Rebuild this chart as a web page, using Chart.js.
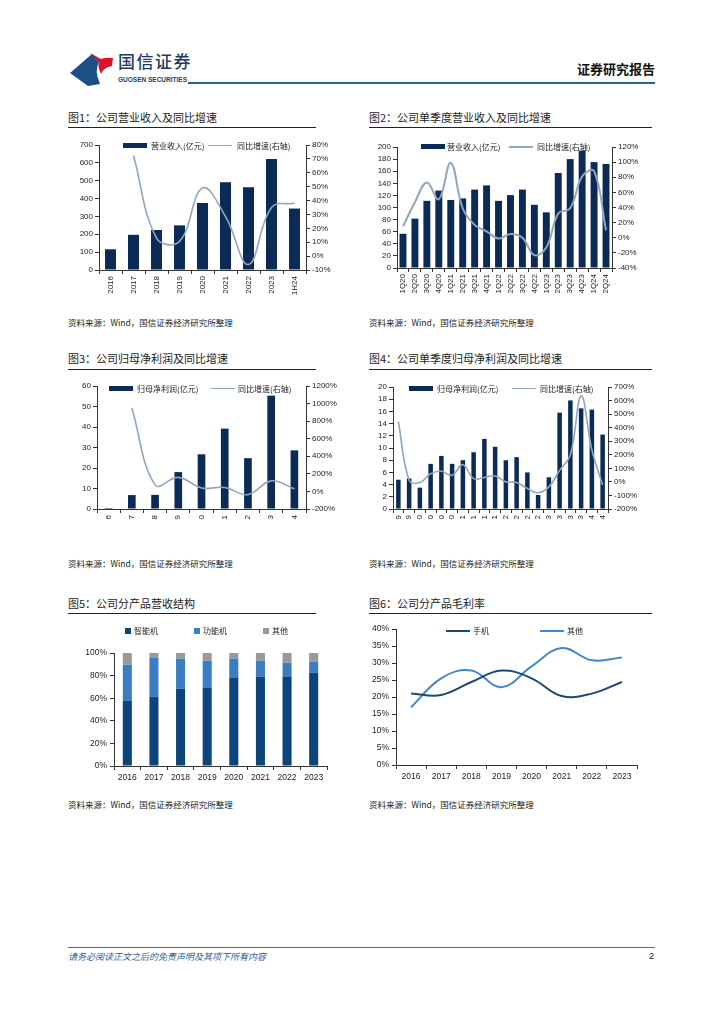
<!DOCTYPE html>
<html>
<head>
<meta charset="utf-8">
<script src="https://cdn.jsdelivr.net/npm/chart.js@4.4.1/dist/chart.umd.min.js"></script>
<style>
body { margin: 0; background: #fff; }
#page { position: relative; width: 724px; height: 1024px; overflow: hidden; font-family: "Noto Sans CJK SC", sans-serif; color: #222; }
.t { position: absolute; white-space: nowrap; }
.title { font-size: 11px; line-height: 13px; }
.rule { position: absolute; height: 1px; background: #222; }
.src { font-size: 8.5px; line-height: 10px; }
.box { position: absolute; overflow: hidden; }
.box > div { position: absolute; left: 0; top: 0; }
.lg { position: absolute; font-size: 8px; line-height: 10px; white-space: nowrap; color: #222; }
.sw { position: absolute; width: 24px; height: 5px; background: #0c2a56; }
.sq { position: absolute; width: 6px; height: 6px; }
.ln { position: absolute; width: 24px; height: 0; border-top: 1.6px solid #8ea7bf; }
</style>
</head>
<body>
<div id="page">
  <svg class="t" style="left:68px;top:50px" width="50" height="38" viewBox="0 0 50 38">
    <path d="M2 23 L24 4 L31 12 Q26 20 32 34 L20 36 Z" fill="#1d4f86"/>
    <path d="M22 3 L33 9 Q38 7 45 8 L44 16 Q36 17 33 24 Q29 16 31 12 Z" fill="#d7142a"/>
  </svg>
  <div class="t" style="left:118px;top:51px;font-size:17px;line-height:20px;color:#1f3a64;font-weight:500;letter-spacing:1.5px">国信证券</div>
  <div class="t" style="left:118px;top:76px;font-size:6.5px;line-height:8px;color:#1f3a64;font-family:'Liberation Sans';font-weight:bold">GUOSEN SECURITIES</div>
  <div class="t" style="right:69px;top:61px;font-size:13px;line-height:16px;font-weight:bold;color:#111">证券研究报告</div>
  <div class="rule" style="left:188px;top:82px;width:467px;height:2px;background:#2f5f8f"></div>

  <div class="t title" style="left:68px;top:111px">图1：公司营业收入及同比增速</div>
  <div class="rule" style="left:68px;top:127px;width:248px"></div>
  <div class="t title" style="left:369px;top:111px">图2：公司单季度营业收入及同比增速</div>
  <div class="rule" style="left:369px;top:127px;width:283px"></div>
  <div class="box" style="left:68px;top:138px;width:275px;height:162px"><div style="width:275px;height:162px"><canvas id="c1"></canvas></div></div>
  <div class="box" style="left:369px;top:140px;width:275px;height:160px"><div style="width:275px;height:160px"><canvas id="c2"></canvas></div></div>
  <div class="sw" style="left:123px;top:143px"></div>
  <div class="lg" style="left:151px;top:141px">营业收入(亿元)</div>
  <div class="ln" style="left:208px;top:145px"></div>
  <div class="lg" style="left:237px;top:141px">同比增速(右轴)</div>
  <div class="sw" style="left:421px;top:144px"></div>
  <div class="lg" style="left:447px;top:142px">营业收入(亿元)</div>
  <div class="ln" style="left:509px;top:146px;border-top-width:2px"></div>
  <div class="lg" style="left:537px;top:142px">同比增速(右轴)</div>
  <div class="t src" style="left:68px;top:317px">资料来源：Wind，国信证券经济研究所整理</div>
  <div class="t src" style="left:369px;top:317px">资料来源：Wind，国信证券经济研究所整理</div>

  <div class="t title" style="left:68px;top:352px">图3：公司归母净利润及同比增速</div>
  <div class="rule" style="left:68px;top:369px;width:248px"></div>
  <div class="t title" style="left:369px;top:352px">图4：公司单季度归母净利润及同比增速</div>
  <div class="rule" style="left:369px;top:369px;width:283px"></div>
  <div class="box" style="left:68px;top:378px;width:275px;height:142px"><div style="width:275px;height:175px"><canvas id="c3"></canvas></div></div>
  <div class="box" style="left:369px;top:378px;width:280px;height:142px"><div style="width:280px;height:175px"><canvas id="c4"></canvas></div></div>
  <div class="sw" style="left:109px;top:386px"></div>
  <div class="lg" style="left:137px;top:384px">归母净利润(亿元)</div>
  <div class="ln" style="left:211px;top:388px"></div>
  <div class="lg" style="left:238px;top:384px">同比增速(右轴)</div>
  <div class="sw" style="left:409px;top:386px"></div>
  <div class="lg" style="left:437px;top:384px">归母净利润(亿元)</div>
  <div class="ln" style="left:512px;top:388px"></div>
  <div class="lg" style="left:540px;top:384px">同比增速(右轴)</div>
  <div class="t src" style="left:68px;top:558px">资料来源：Wind，国信证券经济研究所整理</div>
  <div class="t src" style="left:369px;top:558px">资料来源：Wind，国信证券经济研究所整理</div>

  <div class="t title" style="left:68px;top:597px">图5：公司分产品营收结构</div>
  <div class="rule" style="left:68px;top:613px;width:248px"></div>
  <div class="t title" style="left:369px;top:597px">图6：公司分产品毛利率</div>
  <div class="rule" style="left:369px;top:613px;width:283px"></div>
  <div class="box" style="left:68px;top:609px;width:275px;height:177px"><div style="width:275px;height:177px"><canvas id="c5"></canvas></div></div>
  <div class="box" style="left:369px;top:620px;width:275px;height:166px"><div style="width:275px;height:166px"><canvas id="c6"></canvas></div></div>
  <div class="sq" style="left:125px;top:628px;background:#0d4479"></div>
  <div class="lg" style="left:134px;top:626px">智能机</div>
  <div class="sq" style="left:194px;top:628px;background:#3b7dc1"></div>
  <div class="lg" style="left:203px;top:626px">功能机</div>
  <div class="sq" style="left:263px;top:628px;background:#999999"></div>
  <div class="lg" style="left:272px;top:626px">其他</div>
  <div class="ln" style="left:446px;top:630px;border-top:2px solid #184a7c"></div>
  <div class="lg" style="left:473px;top:626px">手机</div>
  <div class="ln" style="left:540px;top:630px;border-top:2px solid #4388c8"></div>
  <div class="lg" style="left:567px;top:626px">其他</div>
  <div class="t src" style="left:68px;top:799px">资料来源：Wind，国信证券经济研究所整理</div>
  <div class="t src" style="left:369px;top:799px">资料来源：Wind，国信证券经济研究所整理</div>

  <div class="rule" style="left:68px;top:947px;width:587px;background:#3b6ea5"></div>
  <div class="t" style="left:68px;top:951px;font-size:9px;line-height:11px;font-style:italic;color:#2f5f9a">请务必阅读正文之后的免责声明及其项下所有内容</div>
  <div class="t" style="left:649px;top:951px;font-size:9px;line-height:11px;font-family:'Liberation Sans'">2</div>
</div>
<script>
// fig1 / fig3: annual
const years = ['2016', '2017', '2018', '2019', '2020', '2021', '2022', '2023', '1H24'];
const revenue = [116, 197, 224, 250, 375, 492, 464, 621, 344];
const revenueYoY = [null, 72.5, 13, 10.6, 49, 28.5, -6, 35, 38];
const netProfit = [0.5, 6.8, 6.9, 18, 26.7, 39.2, 24.8, 55.3, 28.6];
const netProfitYoY = [null, 950, 75, 160, 40, 44, -36, 120, 29];

// fig2: quarterly revenue
const quarters2 = ['1Q20', '2Q20', '3Q20', '4Q20', '1Q21', '2Q21', '3Q21', '4Q21', '1Q22', '2Q22', '3Q22', '4Q22', '1Q23', '2Q23', '3Q23', '4Q23', '1Q24', '2Q24'];
const qRevenue = [56.5, 81.6, 111, 128, 112.5, 115, 129.6, 136.5, 111, 120.5, 129.6, 104.5, 92, 157, 180, 194, 175, 172];
const qRevenueYoY = [15, 47, 73, 51, 99, 39, 17, 8.5, -1, 5, 0, -23, -13, 32, 39, 81, 88, 10];

// fig4: quarterly net profit
const quarters4 = ['3Q19', '4Q19', '1Q20', '2Q20', '3Q20', '4Q20', '1Q21', '2Q21', '3Q21', '4Q21', '1Q22', '2Q22', '3Q22', '4Q22', '1Q23', '2Q23', '3Q23', '4Q23', '1Q24', '2Q24'];
const qProfit = [4.8, 5.0, 3.5, 7.4, 8.7, 7.4, 8.0, 9.3, 11.5, 10.2, 8.0, 8.5, 6.0, 2.3, 5.2, 15.8, 17.8, 16.5, 16.3, 12.2];
const qProfitYoY = [444, 12, -5, 60, 78, 49, 127, 24, 32, 44, 0, -5, -49, -80, -37, 85, 200, 634, 237, -24];

// fig5 / fig6: by product
const years8 = ['2016', '2017', '2018', '2019', '2020', '2021', '2022', '2023'];
const smartShare = [57.7, 61.2, 68.3, 69.5, 78, 79, 78.7, 82.5];
const featureShare = [31.9, 34.4, 26.7, 23.7, 17, 14.2, 12.7, 9.8];
const otherShare = [10.4, 4.4, 5, 6.8, 5, 6.8, 8.6, 7.7];
const phoneMargin = [21.0, 20.6, 24.4, 27.8, 25.5, 20.3, 21.0, 24.4];
const otherMargin = [17.0, 25.5, 27.8, 22.9, 29.0, 34.4, 30.8, 31.6];

const NAVY = '#0c2a56';
const GREYLINE = '#8ea7bf';
const AXIS = '#333';
const NUMFONT = { family: 'Liberation Sans', size: 8 };

function fixW(w) { return s => { s.width = w; }; }
function fixH(h) { return s => { s.height = h; }; }
function pct(v) { return v + '%'; }

function combo(id, cats, barLabel, bars, lineLabel, line, o) {
  return new Chart(document.getElementById(id), {
    type: 'bar',
    data: {
      labels: cats,
      datasets: [
        { type: 'bar', label: barLabel, data: bars, backgroundColor: NAVY, yAxisID: 'y', order: 1,
          categoryPercentage: 1, barPercentage: o.barPct },
        { type: 'line', label: lineLabel, data: line, borderColor: GREYLINE, borderWidth: o.lw, yAxisID: 'y1',
          order: 0, pointRadius: 0, tension: 0.4, fill: false }
      ]
    },
    options: {
      responsive: true, maintainAspectRatio: false, animation: false,
      layout: { padding: { top: o.top, right: 0, left: 0, bottom: 0 } },
      plugins: { tooltip: { enabled: false }, legend: { display: false } },
      scales: {
        x: {
          afterFit: fixH(o.xh),
          grid: { offset: true, drawOnChartArea: false, tickLength: 4, color: AXIS },
          border: { color: AXIS },
          ticks: { autoSkip: false, minRotation: 90, maxRotation: 90, padding: 2, color: '#222', font: NUMFONT }
        },
        y: {
          position: 'left', min: o.yMin, max: o.yMax, afterFit: fixW(o.yw),
          grid: { drawOnChartArea: false, tickLength: 4, color: AXIS },
          border: { color: AXIS },
          ticks: { autoSkip: false, stepSize: o.yStep, padding: 2, color: '#222', font: NUMFONT }
        },
        y1: {
          position: 'right', min: o.rMin, max: o.rMax, afterFit: fixW(o.rw),
          grid: { drawOnChartArea: false, tickLength: 4, color: AXIS },
          border: { color: AXIS },
          ticks: { autoSkip: false, stepSize: o.rStep, padding: 2, color: '#222', font: NUMFONT, callback: pct }
        }
      }
    }
  });
}

combo('c1', years, '营业收入(亿元)', revenue, '同比增速(右轴)', revenueYoY,
  { barPct: 0.48, lw: 1.6, top: 7, xh: 30, yw: 31, rw: 37, yMin: 0, yMax: 700, yStep: 100, rMin: -10, rMax: 80, rStep: 10 });
combo('c2', quarters2, '营业收入(亿元)', qRevenue, '同比增速(右轴)', qRevenueYoY,
  { barPct: 0.58, lw: 2, top: 7, xh: 32, yw: 28, rw: 32, yMin: 0, yMax: 200, yStep: 20, rMin: -40, rMax: 120, rStep: 20 });
combo('c3', years, '归母净利润(亿元)', netProfit, '同比增速(右轴)', netProfitYoY,
  { barPct: 0.33, lw: 1.6, top: 8, xh: 44, yw: 29, rw: 37, yMin: 0, yMax: 60, yStep: 10, rMin: -200, rMax: 1200, rStep: 200 });
combo('c4', quarters4, '归母净利润(亿元)', qProfit, '同比增速(右轴)', qProfitYoY,
  { barPct: 0.42, lw: 1.6, top: 9, xh: 44, yw: 24, rw: 41, yMin: 0, yMax: 20, yStep: 2, rMin: -200, rMax: 700, rStep: 100 });

const YEARFONT = { family: 'Liberation Sans', size: 8.5 };

new Chart(document.getElementById('c5'), {
  type: 'bar',
  data: {
    labels: years8,
    datasets: [
      { label: '智能机', data: smartShare, backgroundColor: '#0d4479', categoryPercentage: 1, barPercentage: 0.34 },
      { label: '功能机', data: featureShare, backgroundColor: '#3b7dc1', categoryPercentage: 1, barPercentage: 0.34 },
      { label: '其他', data: otherShare, backgroundColor: '#999999', categoryPercentage: 1, barPercentage: 0.34 }
    ]
  },
  options: {
    responsive: true, maintainAspectRatio: false, animation: false,
    layout: { padding: { top: 44, right: 16, left: 0, bottom: 0 } },
    plugins: { tooltip: { enabled: false }, legend: { display: false } },
    scales: {
      x: {
        stacked: true, afterFit: fixH(20),
        grid: { offset: true, drawOnChartArea: false, tickLength: 4, color: AXIS },
        border: { color: AXIS },
        ticks: { maxRotation: 0, padding: 3, color: '#222', font: YEARFONT }
      },
      y: {
        stacked: true, min: 0, max: 100, afterFit: fixW(46),
        grid: { drawOnChartArea: false, tickLength: 4, color: AXIS },
        border: { color: AXIS },
        ticks: { autoSkip: false, stepSize: 20, padding: 3, color: '#222', font: YEARFONT, callback: pct }
      }
    }
  }
});

new Chart(document.getElementById('c6'), {
  type: 'line',
  data: {
    labels: years8,
    datasets: [
      { label: '手机', data: phoneMargin, borderColor: '#184a7c', borderWidth: 2, pointRadius: 0, tension: 0.4 },
      { label: '其他', data: otherMargin, borderColor: '#4388c8', borderWidth: 2, pointRadius: 0, tension: 0.4 }
    ]
  },
  options: {
    responsive: true, maintainAspectRatio: false, animation: false,
    layout: { padding: { top: 9, right: 7, left: 0, bottom: 0 } },
    plugins: { tooltip: { enabled: false }, legend: { display: false } },
    scales: {
      x: {
        offset: true, afterFit: fixH(21),
        grid: { offset: true, drawOnChartArea: false, tickLength: 4, color: AXIS },
        border: { color: AXIS },
        ticks: { maxRotation: 0, padding: 3, color: '#222', font: YEARFONT }
      },
      y: {
        min: 0, max: 40, afterFit: fixW(27),
        grid: { drawOnChartArea: false, tickLength: 4, color: AXIS },
        border: { color: AXIS },
        ticks: { autoSkip: false, stepSize: 5, padding: 3, color: '#222', font: YEARFONT, callback: pct }
      }
    }
  }
});
</script>
</body>
</html>
